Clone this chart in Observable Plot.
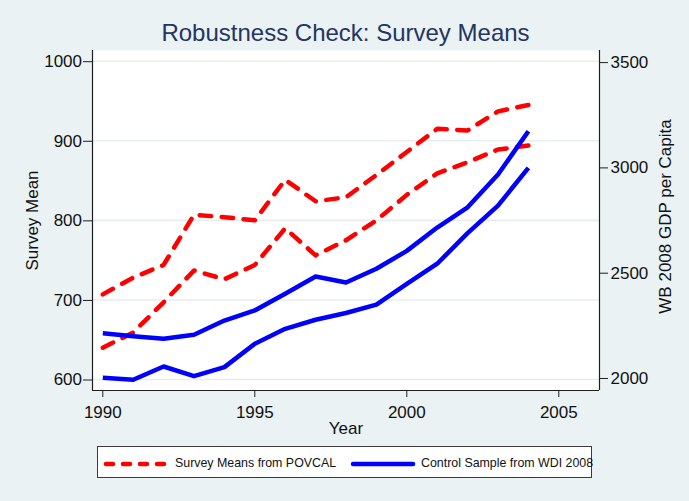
<!DOCTYPE html>
<html>
<head>
<meta charset="utf-8">
<script src="https://cdn.jsdelivr.net/npm/d3@7"></script>
<script src="https://cdn.jsdelivr.net/npm/@observablehq/plot@0.6"></script>
<style>
  html, body { margin: 0; padding: 0; background: #eaf2f3; }
  #chart { position: relative; width: 689px; height: 501px; background: #eaf2f3; overflow: hidden;
           font-family: "Liberation Sans", Arial, Helvetica, sans-serif; }
  #title { position: absolute; left: 0; top: 21px; width: 691px; text-align: center;
           font-size: 24px; line-height: 24px; color: #243563; }
  #plot { position: absolute; left: 0; top: 44px; }
  #legend { position: absolute; left: 97px; top: 446px; width: 495px; height: 32px;
            background: #ffffff; border: 1px solid #3a3a3a; box-sizing: border-box; }
  .sw { position: absolute; top: 0; }
  .lt { position: absolute; top: 8px; font-size: 12.4px; line-height: 16px; color: #111; white-space: nowrap; }
</style>
</head>
<body>
<div id="chart">
  <div id="title">Robustness Check: Survey Means</div>
  <div id="plot"></div>
  <div id="legend"></div>
</div>
<script>
// ---- data ----
const years = [1990, 1991, 1992, 1993, 1994, 1995, 1996, 1997, 1998, 1999, 2000, 2001, 2002, 2003, 2004];
// Survey means from POVCAL (left axis, Survey Mean)
const povcalA = [707, 728, 744, 807, 804, 800, 851, 824, 829, 857, 886, 915, 913, 937, 945];
const povcalB = [640, 659, 697, 737, 726, 744, 790, 756, 775, 800, 832, 859, 873, 889, 894];
// Control sample from WDI 2008 (right axis, WB 2008 GDP per Capita)
const wdiA = [2215, 2201, 2189, 2208, 2275, 2323, 2402, 2484, 2456, 2521, 2606, 2717, 2813, 2969, 3174];
const wdiB = [2003, 1994, 2057, 2011, 2054, 2165, 2236, 2279, 2311, 2351, 2449, 2545, 2690, 2821, 3000];
const leftTicks = [600, 700, 800, 900, 1000];
const rightTicks = [2000, 2500, 3000, 3500];
const xTicks = [1990, 1995, 2000, 2005];
const seriesNames = ["Survey Means from POVCAL", "Control Sample from WDI 2008"];
const seriesColors = ["#ff0000", "#0000ff"];

// ---- scales ----
const xDomain = [1989.661, 2006.339];
const leftDomain = [586.18, 1013.45];
const rightDomain = [1943, 3557.5];
const toLeft = v => leftDomain[0] + (v - rightDomain[0]) * (leftDomain[1] - leftDomain[0]) / (rightDomain[1] - rightDomain[0]);
const fromLeft = l => rightDomain[0] + (l - leftDomain[0]) * (rightDomain[1] - rightDomain[0]) / (leftDomain[1] - leftDomain[0]);

const redRows = [];
[povcalA, povcalB].forEach((arr, k) => arr.forEach((v, i) => redRows.push({year: years[i], y: v, g: "r" + k})));
const blueRows = [];
[wdiA, wdiB].forEach((arr, k) => arr.forEach((v, i) => blueRows.push({year: years[i], v, y: toLeft(v), g: "b" + k})));

const dash = "11.5,10.5";
const axisColor = "#1e1e1e";
const fs = 17;

const chart = Plot.plot({
  width: 689,
  height: 396,
  marginLeft: 92,
  marginRight: 90,
  marginTop: 6,
  marginBottom: 50,
  style: {background: "transparent", fontFamily: "'Liberation Sans', Arial, Helvetica, sans-serif", fontSize: "17px", color: "#111"},
  x: {domain: xDomain},
  y: {domain: leftDomain},
  marks: [
    Plot.frame({fill: "white", stroke: "none"}),
    Plot.ruleY(leftTicks, {stroke: "#e6eef0", strokeWidth: 1.6}),
    Plot.line(redRows, {x: "year", y: "y", z: "g", stroke: seriesColors[0], strokeWidth: 4.5,
      strokeDasharray: dash, strokeLinecap: "round", strokeLinejoin: "round"}),
    Plot.line(blueRows, {x: "year", y: "y", z: "g", stroke: seriesColors[1], strokeWidth: 4.5,
      strokeLinecap: "butt", strokeLinejoin: "round"}),
    Plot.ruleX([xDomain[0]], {stroke: axisColor, strokeWidth: 1.2}),
    Plot.ruleX([xDomain[1]], {stroke: axisColor, strokeWidth: 1.2}),
    Plot.ruleY([leftDomain[0]], {stroke: axisColor, strokeWidth: 1.2}),
    Plot.axisY(leftTicks, {anchor: "left", tickSize: 9, tickPadding: 1.5, label: null, stroke: axisColor,
      fontSize: fs, fill: "#111", dy: 0.5, tickFormat: d => String(d)}),
    Plot.axisY(rightTicks.map(toLeft), {anchor: "right", tickSize: 8, tickPadding: 3, label: null, stroke: axisColor,
      fontSize: fs, fill: "#111", tickFormat: l => String(Math.round(fromLeft(l)))}),
    Plot.axisX(xTicks, {anchor: "bottom", tickSize: 7, tickPadding: 8, label: null, stroke: axisColor,
      fontSize: fs, fill: "#111", tickFormat: d => String(d)}),
    Plot.text(["Year"], {frameAnchor: "bottom", lineAnchor: "middle", textAnchor: "middle", dy: 38, fontSize: fs, fill: "#111"}),
    Plot.text(["Survey Mean"], {frameAnchor: "left", lineAnchor: "middle", textAnchor: "middle", dx: -60, rotate: -90, fontSize: fs, fill: "#111"}),
    Plot.text(["WB 2008 GDP per Capita"], {frameAnchor: "right", lineAnchor: "middle", textAnchor: "middle", dx: 66.5, dy: -4, rotate: -90, fontSize: fs, fill: "#111"})
  ]
});
document.getElementById("plot").appendChild(chart);

// ---- legend ----
const legend = document.getElementById("legend");
const items = [
  {name: seriesNames[0], color: seriesColors[0], dashed: true, swX: 5, txX: 77},
  {name: seriesNames[1], color: seriesColors[1], dashed: false, swX: 252, txX: 323}
];
items.forEach(it => {
  const svg = d3.create("svg").attr("class", "sw").attr("width", 66).attr("height", 30)
    .style("left", it.swX + "px");
  svg.append("line").attr("x1", 3).attr("x2", 63).attr("y1", 17).attr("y2", 17)
    .attr("stroke", it.color).attr("stroke-width", 4.5)
    .attr("stroke-linecap", "round")
    .attr("stroke-dasharray", it.dashed ? "7,10" : null);
  legend.appendChild(svg.node());
  const t = document.createElement("span");
  t.className = "lt";
  t.style.left = it.txX + "px";
  t.textContent = it.name;
  legend.appendChild(t);
});
</script>
</body>
</html>
